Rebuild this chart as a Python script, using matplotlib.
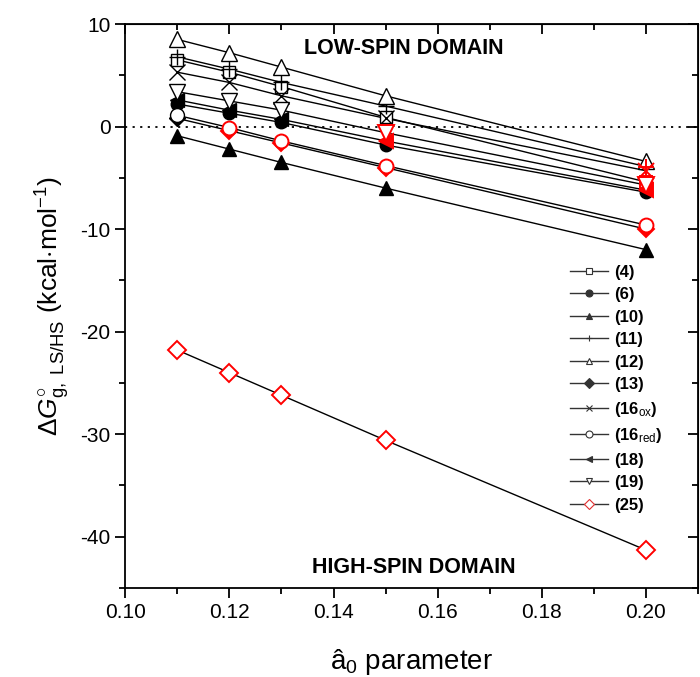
import numpy as np
import matplotlib
matplotlib.use('Agg')
from matplotlib import pyplot as plt
from matplotlib.ticker import MultipleLocator

plt.rcParams['font.family'] = ['Liberation Sans', 'DejaVu Sans']
plt.rcParams['mathtext.fontset'] = 'custom'
plt.rcParams['mathtext.rm'] = 'Liberation Sans'
plt.rcParams['mathtext.it'] = 'Liberation Sans:italic'
plt.rcParams['mathtext.bf'] = 'Liberation Sans:bold'
plt.rcParams['axes.unicode_minus'] = False

# a0 parameter values
a0 = [0.11, 0.12, 0.13, 0.15, 0.20]

# dG (kcal/mol) for each complex
g4 = [6.5, 5.3, 3.9, 0.9, -5.4]
g6 = [2.2, 1.3, 0.4, -1.8, -6.4]
g10 = [-0.9, -2.2, -3.5, -6.0, -12.0]
g11 = [6.8, 5.6, 4.3, 2.0, -3.9]
g12 = [8.5, 7.2, 5.8, 3.0, -3.4]
g13 = [0.8, -0.4, -1.6, -4.0, -10.0]
g16ox = [5.3, 4.3, 3.0, 0.8, -4.3]
g16red = [1.1, -0.1, -1.4, -3.8, -9.6]
g18 = [2.6, 1.6, 0.7, -1.4, -6.2]
g19 = [3.4, 2.5, 1.6, -0.6, -5.7]
g25 = [-21.8, -24.0, -26.2, -30.6, -41.3]

labels = ['(4)', '(6)', '(10)', '(11)', '(12)', '(13)',
          r'(16$_{\mathrm{ox}}$)', r'(16$_{\mathrm{red}}$)', '(18)', '(19)', '(25)']

# which points are highlighted in red (index into a0)
red4 = [4]
red6 = []
red10 = []
red11 = [4]
red12 = []
red13 = [1, 2, 3, 4]
red16ox = [4]
red16red = [1, 2, 3, 4]
red18 = [3, 4]
red19 = [3, 4]
red25 = [0, 1, 2, 3, 4]

series = [g4, g6, g10, g11, g12, g13, g16ox, g16red, g18, g19, g25]
reds = [red4, red6, red10, red11, red12, red13, red16ox, red16red, red18, red19, red25]
markers = ['s', 'o', '^', '+', '^', 'D', 'x', 'o', '<', 'v', 'D']
filled = [False, True, True, True, False, True, True, False, True, False, False]
sizes = [9, 9, 10, 12, 11, 8, 11, 10, 10, 11, 9]

fig = plt.figure(figsize=(7, 6.77), dpi=100)
ax = fig.add_axes([0.179, 0.1315, 0.818, 0.833])

ax.axhline(0, color='k', ls=(0, (1.2, 3)), lw=1.3, zorder=1)

for i in range(len(series)):
    y = np.array(series[i])
    x = np.array(a0)
    ax.plot(x, y, '-', color='k', lw=1.0, zorder=2)
    fc = 'k' if filled[i] else 'white'
    black = [j for j in range(len(x)) if j not in reds[i]]
    ax.plot(x[black], y[black], ls='none', marker=markers[i], ms=sizes[i],
            mec='k', mfc=fc, mew=1.0, zorder=3)
    if reds[i]:
        rfc = 'red' if filled[i] else 'white'
        ax.plot(x[reds[i]], y[reds[i]], ls='none', marker=markers[i], ms=sizes[i],
                mec='red', mfc=rfc, mew=1.4, zorder=4)

# legend handles: small markers with line on both sides
handles = []
for i in range(len(series)):
    col = '#e03030' if i == len(series) - 1 else '#333333'
    fc = col if filled[i] else 'white'
    h, = ax.plot([], [], '-', color='#333333', lw=1.0, marker=markers[i], ms=5,
                 mec=col, mfc=fc, mew=0.8)
    handles.append(h)
leg = ax.legend(handles, labels, loc='upper left', bbox_to_anchor=(0.765, 0.585),
                frameon=False, handlelength=2.3, handletextpad=0.35,
                labelspacing=0.45, borderaxespad=0, prop={'weight': 'bold', 'size': 12})

ax.text(0.1535, 7.6, 'LOW-SPIN DOMAIN', ha='center', va='center',
        fontsize=15.5, fontweight='bold')
ax.text(0.1555, -43.0, 'HIGH-SPIN DOMAIN', ha='center', va='center',
        fontsize=15.5, fontweight='bold')

ax.set_xlim(0.10, 0.21)
ax.set_ylim(-45, 10)
ax.xaxis.set_major_locator(MultipleLocator(0.02))
ax.xaxis.set_minor_locator(MultipleLocator(0.01))
ax.yaxis.set_major_locator(MultipleLocator(10))
ax.yaxis.set_minor_locator(MultipleLocator(5))
ax.xaxis.set_major_formatter(plt.FuncFormatter(lambda v, p: '%.2f' % v))
ax.tick_params(which='major', direction='out', length=7, width=1.3, labelsize=15)
ax.tick_params(which='minor', direction='out', length=4.5, width=1.3)
for s in ax.spines.values():
    s.set_linewidth(1.3)

# mirrored ticks pointing inward on top and right
top = ax.secondary_xaxis('top')
top.xaxis.set_major_locator(MultipleLocator(0.02))
top.xaxis.set_minor_locator(MultipleLocator(0.01))
top.tick_params(which='major', direction='in', length=7, width=1.3, labeltop=False)
top.tick_params(which='minor', direction='in', length=4.5, width=1.3)
right = ax.secondary_yaxis('right')
right.yaxis.set_major_locator(MultipleLocator(10))
right.yaxis.set_minor_locator(MultipleLocator(5))
right.tick_params(which='major', direction='in', length=7, width=1.3, labelright=False)
right.tick_params(which='minor', direction='in', length=4.5, width=1.3)

ax.set_xlabel(r'â$_0$ parameter', fontsize=20, labelpad=18)
ax.set_ylabel(r'$\Delta G^{\circ}_{\mathrm{g,\ LS/HS}}$ (kcal$\cdot$mol$^{-1}$)',
              fontsize=19, labelpad=6)

fig.savefig('out.png', dpi=100)
